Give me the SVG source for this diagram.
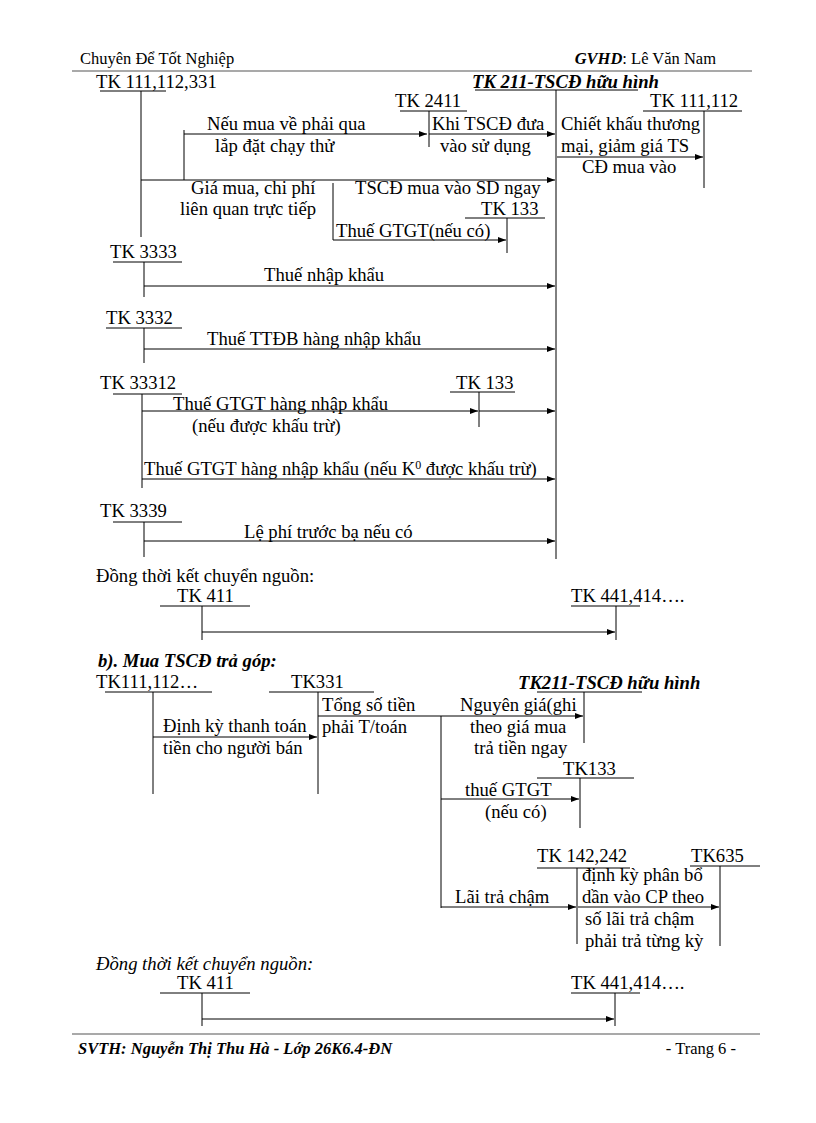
<svg xmlns="http://www.w3.org/2000/svg" width="816" height="1123" viewBox="0 0 816 1123">
<style>
text{font-family:"Liberation Serif","Times New Roman",serif;font-size:18.67px;fill:#000}
.hd{font-size:16.5px}
.bi{font-weight:bold;font-style:italic}
.it{font-style:italic}
line{stroke:#000;stroke-width:1}
.rule{stroke:#555;stroke-width:1.2}
.arr{marker-end:url(#ah)}
</style>
<defs>
<marker id="ah" markerUnits="userSpaceOnUse" markerWidth="9" markerHeight="7" refX="8" refY="3" orient="auto">
<path d="M0,0 L8,3 L0,6 z" fill="#000"/>
</marker>
</defs>
<rect width="816" height="1123" fill="#fff"/>

<g id="header">
<text x="80" y="64" class="hd">Chuyên Để Tốt Nghiệp</text>
<text x="716" y="64" class="hd" text-anchor="end"><tspan class="bi">GVHD</tspan>: Lê Văn Nam</text>
<line x1="72" y1="71" x2="752" y2="71" class="rule"/>
</g>

<!-- Section a -->
<g id="tk111_112_331">
<text x="96" y="88">TK 111,112,331</text>
<line x1="100" y1="91" x2="166" y2="91"/>
<line x1="141" y1="91" x2="141" y2="237"/>
</g>
<g id="tk211">
<text x="472" y="88" class="bi">TK 211-TSCĐ hữu hình</text>
<line x1="475" y1="90" x2="638" y2="90"/>
<line x1="556" y1="90" x2="556" y2="559"/>
</g>
<g id="tk2411">
<text x="395" y="107">TK 2411</text>
<line x1="400" y1="111" x2="467" y2="111"/>
<line x1="429" y1="111" x2="429" y2="147"/>
</g>
<g id="tk111_112">
<text x="650" y="107">TK 111,112</text>
<line x1="643" y1="111" x2="742" y2="111"/>
<line x1="704" y1="111" x2="704" y2="188"/>
</g>
<g id="tk133a">
<text x="481" y="215">TK 133</text>
<line x1="465" y1="218" x2="545" y2="218"/>
<line x1="507" y1="218" x2="507" y2="253"/>
</g>
<g id="tk3333">
<text x="110" y="258">TK 3333</text>
<line x1="113" y1="262" x2="182" y2="262"/>
<line x1="144" y1="262" x2="144" y2="297"/>
</g>
<g id="tk3332">
<text x="106" y="324">TK 3332</text>
<line x1="106" y1="328" x2="182" y2="328"/>
<line x1="144" y1="328" x2="144" y2="363"/>
</g>
<g id="tk33312">
<text x="100" y="389">TK 33312</text>
<line x1="113" y1="394" x2="182" y2="394"/>
<line x1="142" y1="394" x2="142" y2="488"/>
</g>
<g id="tk133b">
<text x="456" y="389">TK 133</text>
<line x1="450" y1="392" x2="515" y2="392"/>
<line x1="479" y1="392" x2="479" y2="427"/>
</g>
<g id="tk3339">
<text x="100" y="517">TK 3339</text>
<line x1="113" y1="522" x2="182" y2="522"/>
<line x1="144" y1="522" x2="144" y2="557"/>
</g>
<text x="96" y="582">Đồng thời kết chuyển nguồn:</text>
<g id="tk411a">
<text x="177" y="602">TK 411</text>
<line x1="160" y1="606" x2="250" y2="606"/>
<line x1="202" y1="606" x2="202" y2="640"/>
</g>
<g id="tk441a">
<text x="571" y="602">TK 441,414….</text>
<line x1="571" y1="606" x2="640" y2="606"/>
<line x1="616" y1="606" x2="616" y2="640"/>
</g>

<!-- Section b -->
<text x="98" y="667" class="bi">b). Mua TSCĐ trả góp:</text>
<g id="tk111_112b">
<text x="96" y="688">TK111,112…</text>
<line x1="105" y1="692" x2="212" y2="692"/>
<line x1="153" y1="692" x2="153" y2="794"/>
</g>
<g id="tk331">
<text x="291" y="688">TK331</text>
<line x1="269" y1="692" x2="374" y2="692"/>
<line x1="318" y1="692" x2="318" y2="794"/>
</g>
<g id="tk211b">
<text x="518" y="689" class="bi">TK211-TSCĐ hữu hình</text>
<line x1="537" y1="692" x2="642" y2="692"/>
<line x1="584" y1="692" x2="584" y2="743"/>
</g>
<g id="tk133c">
<text x="563" y="775">TK133</text>
<line x1="537" y1="778" x2="634" y2="778"/>
<line x1="580" y1="778" x2="580" y2="828"/>
</g>
<g id="tk142_242">
<text x="537" y="862">TK 142,242</text>
<line x1="537" y1="868" x2="630" y2="868"/>
<line x1="577" y1="868" x2="577" y2="944"/>
</g>
<g id="tk635">
<text x="691" y="862">TK635</text>
<line x1="690" y1="866" x2="760" y2="866"/>
<line x1="720" y1="866" x2="720" y2="946"/>
</g>
<text x="96" y="970" class="it">Đồng thời kết chuyển nguồn:</text>
<g id="tk411b">
<text x="177" y="989">TK 411</text>
<line x1="160" y1="993" x2="250" y2="993"/>
<line x1="202" y1="993" x2="202" y2="1026"/>
</g>
<g id="tk441b">
<text x="571" y="989">TK 441,414….</text>
<line x1="571" y1="993" x2="640" y2="993"/>
<line x1="615" y1="993" x2="615" y2="1026"/>
</g>

<g id="connectors">
<line x1="184" y1="180" x2="184" y2="130"/>
<line x1="184" y1="134" x2="427" y2="134" class="arr"/>
<line x1="429" y1="134" x2="555" y2="134" class="arr"/>
<line x1="557" y1="157" x2="703" y2="157" class="arr"/>
<line x1="141" y1="180" x2="555" y2="180" class="arr"/>
<line x1="333" y1="183" x2="333" y2="240"/>
<line x1="333" y1="240" x2="506" y2="240" class="arr"/>
<line x1="144" y1="286" x2="555" y2="286" class="arr"/>
<line x1="144" y1="349" x2="555" y2="349" class="arr"/>
<line x1="142" y1="411" x2="478" y2="411" class="arr"/>
<line x1="479" y1="411" x2="555" y2="411" class="arr"/>
<line x1="142" y1="479" x2="555" y2="479" class="arr"/>
<line x1="144" y1="541" x2="555" y2="541" class="arr"/>
<line x1="202" y1="632" x2="615" y2="632" class="arr"/>
<line x1="153" y1="737" x2="317" y2="737" class="arr"/>
<line x1="318" y1="716" x2="583" y2="716" class="arr"/>
<line x1="441" y1="716" x2="441" y2="908"/>
<line x1="441" y1="799" x2="579" y2="799" class="arr"/>
<line x1="441" y1="907" x2="576" y2="907" class="arr"/>
<line x1="578" y1="907" x2="719" y2="907" class="arr"/>
<line x1="202" y1="1019" x2="614" y2="1019" class="arr"/>
</g>

<g id="labels">
<text x="207" y="130">Nếu mua về phải qua</text>
<text x="215" y="152">lắp đặt chạy thử</text>
<text x="432" y="130">Khi TSCĐ đưa</text>
<text x="440" y="152">vào sử dụng</text>
<text x="561" y="130">Chiết khấu thương</text>
<text x="561" y="152">mại, giảm giá TS</text>
<text x="582" y="173">CĐ mua vào</text>
<text x="191" y="194">Giá mua, chi phí</text>
<text x="180" y="215">liên  quan trực tiếp</text>
<text x="355" y="194">TSCĐ mua vào SD ngay</text>
<text x="336" y="237">Thuế GTGT(nếu có)</text>
<text x="264" y="281">Thuế nhập khẩu</text>
<text x="207" y="345">Thuế TTĐB hàng nhập khẩu</text>
<text x="173" y="410">Thuế GTGT hàng nhập khẩu</text>
<text x="192" y="432">(nếu được khấu trừ)</text>
<text x="144" y="475">Thuế GTGT hàng nhập khẩu (nếu K<tspan dy="-6" font-size="12">0</tspan><tspan dy="6"> được khấu trừ)</tspan></text>
<text x="244" y="538">Lệ phí trước bạ nếu có</text>
<text x="163" y="732">Định kỳ thanh toán</text>
<text x="163" y="754">tiền cho người bán</text>
<text x="322" y="711">Tổng số tiền</text>
<text x="322" y="733">phải T/toán</text>
<text x="460" y="711">Nguyên giá(ghi</text>
<text x="470" y="733">theo giá mua</text>
<text x="474" y="754">trả tiền ngay</text>
<text x="465" y="796">thuế GTGT</text>
<text x="485" y="818">(nếu có)</text>
<text x="455" y="903">Lãi trả chậm</text>
<text x="582" y="881">định kỳ phân bổ</text>
<text x="582" y="903">dần vào CP theo</text>
<text x="585" y="925">số lãi trả chậm</text>
<text x="585" y="947">phải trả từng kỳ</text>
</g>

<g id="footer">
<line x1="72" y1="1034" x2="760" y2="1034" class="rule"/>
<text x="78" y="1054" class="hd bi">SVTH: Nguyễn Thị Thu Hà - Lớp 26K6.4-ĐN</text>
<text x="736" y="1054" class="hd" text-anchor="end">- Trang 6 -</text>
</g>
</svg>
